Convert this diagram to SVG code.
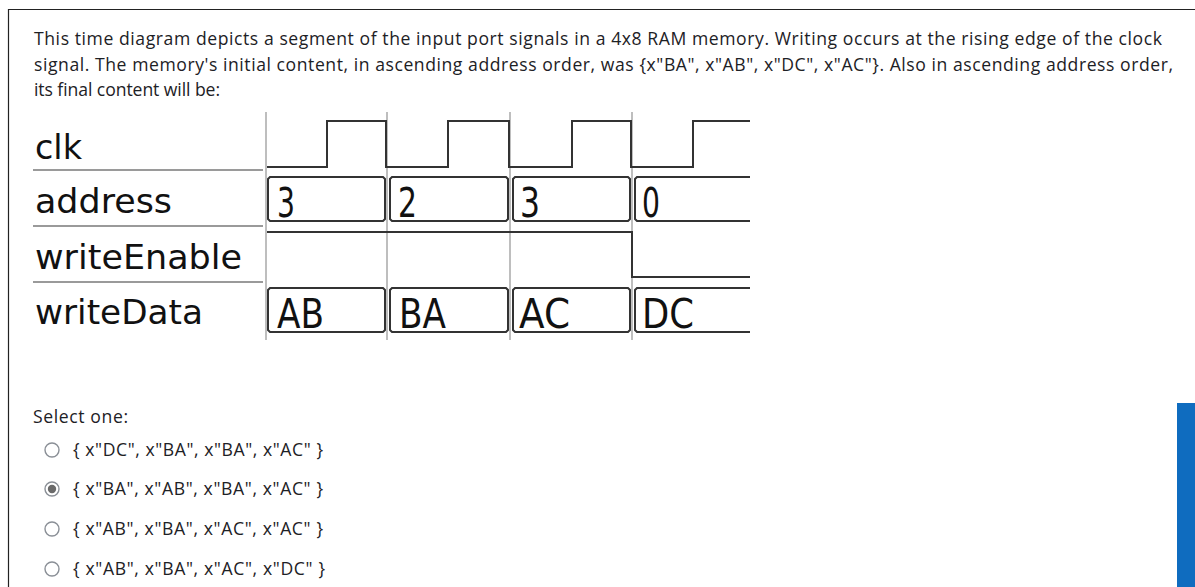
<svg xmlns="http://www.w3.org/2000/svg" width="1195" height="587" viewBox="0 0 1195 587">
<style>
.q{font-family:"Open Sans","Noto Sans",sans-serif;font-size:17.6px;fill:#1d2125}
.lbl{font-family:"DejaVu Sans",sans-serif;font-size:34px;fill:#111}
.bus{font-family:"DejaVu Sans",sans-serif;font-size:41px;fill:#111}
.sig{fill:none;stroke:#333;stroke-width:2;stroke-linejoin:miter}
.grid{stroke:#a8a8a8;stroke-width:1.5}
.sep{stroke:#9a9a9a;stroke-width:2}
.radio{fill:#fff;stroke:#8a8f96;stroke-width:1.4}
</style>
<rect width="1195" height="587" fill="#fff"/>
<g id="frame">
<path d="M8.5,587 V9.5 H1195" fill="none" stroke="#222" stroke-width="1.2"/>
<rect x="1177" y="403" width="18" height="184" fill="#0f6cbf"/>
</g>
<g id="question">
<text class="q" x="34" y="45" textLength="1128" lengthAdjust="spacing">This time diagram depicts a segment of the input port signals in a 4x8 RAM memory. Writing occurs at the rising edge of the clock</text>
<text class="q" x="34" y="70.5" textLength="1139" lengthAdjust="spacing">signal. The memory's initial content, in ascending address order, was {x"BA", x"AB", x"DC", x"AC"}. Also in ascending address order,</text>
<text class="q" x="34" y="96" textLength="186" lengthAdjust="spacing">its final content will be:</text>
</g>
<g id="timing-grid">
<line class="grid" x1="266" y1="112" x2="266" y2="340"/>
<line class="grid" x1="387" y1="112" x2="387" y2="340"/>
<line class="grid" x1="510" y1="112" x2="510" y2="340"/>
<line class="grid" x1="632" y1="112" x2="632" y2="340"/>
<line class="sep" x1="33" y1="170" x2="263" y2="170"/>
<line class="sep" x1="33" y1="226" x2="263" y2="226"/>
<line class="sep" x1="33" y1="282" x2="263" y2="282"/>
</g>
<g id="labels">
<text class="lbl" x="35" y="159" textLength="47" lengthAdjust="spacingAndGlyphs">clk</text>
<text class="lbl" x="35" y="213" textLength="137" lengthAdjust="spacingAndGlyphs">address</text>
<text class="lbl" x="35" y="269" textLength="207" lengthAdjust="spacingAndGlyphs">writeEnable</text>
<text class="lbl" x="35" y="324" textLength="168" lengthAdjust="spacingAndGlyphs">writeData</text>
</g>
<g id="clk">
<path class="sig" d="M267,167 H327 V121 H386 V167 H448 V121 H509 V167 H572 V121 H631 V167 H693 V121 H750"/>
</g>
<g id="address">
<path class="sig" d="M270,177 H383 L385,179 V219 L383,221 H270 L268,219 V179 Z"/>
<path class="sig" d="M392,177 H506 L508,179 V219 L506,221 H392 L390,219 V179 Z"/>
<path class="sig" d="M515,177 H628 L630,179 V219 L628,221 H515 L513,219 V179 Z"/>
<path class="sig" d="M750,177 H637 L635,179 V219 L637,221 H750"/>
<text class="bus" x="277" y="217" textLength="18" lengthAdjust="spacingAndGlyphs">3</text>
<text class="bus" x="398" y="217" textLength="19" lengthAdjust="spacingAndGlyphs">2</text>
<text class="bus" x="520" y="217" textLength="20" lengthAdjust="spacingAndGlyphs">3</text>
<text class="bus" x="642" y="217" textLength="18" lengthAdjust="spacingAndGlyphs">0</text>
</g>
<g id="writeEnable">
<path class="sig" d="M267,232 H632 V277 H750"/>
</g>
<g id="writeData">
<path class="sig" d="M270,288 H383 L385,290 V330 L383,332 H270 L268,330 V290 Z"/>
<path class="sig" d="M392,288 H506 L508,290 V330 L506,332 H392 L390,330 V290 Z"/>
<path class="sig" d="M515,288 H628 L630,290 V330 L628,332 H515 L513,330 V290 Z"/>
<path class="sig" d="M750,288 H637 L635,290 V330 L637,332 H750"/>
<text class="bus" x="277" y="328" textLength="47" lengthAdjust="spacingAndGlyphs">AB</text>
<text class="bus" x="399" y="328" textLength="47" lengthAdjust="spacingAndGlyphs">BA</text>
<text class="bus" x="519" y="328" textLength="51" lengthAdjust="spacingAndGlyphs">AC</text>
<text class="bus" x="642" y="328" textLength="52" lengthAdjust="spacingAndGlyphs">DC</text>
</g>
<g id="answers">
<text class="q" x="33" y="423" textLength="95" lengthAdjust="spacing">Select one:</text>
<g id="opt1">
<circle class="radio" cx="52" cy="450" r="7"/>
<text class="q" x="73" y="456" textLength="250" lengthAdjust="spacing">{ x"DC", x"BA", x"BA", x"AC" }</text>
</g>
<g id="opt2">
<circle class="radio" cx="52" cy="489" r="7"/>
<circle cx="52" cy="489" r="4.2" fill="#6a6a6a"/>
<text class="q" x="73" y="495" textLength="250" lengthAdjust="spacing">{ x"BA", x"AB", x"BA", x"AC" }</text>
</g>
<g id="opt3">
<circle class="radio" cx="52" cy="529" r="7"/>
<text class="q" x="73" y="535" textLength="250" lengthAdjust="spacing">{ x"AB", x"BA", x"AC", x"AC" }</text>
</g>
<g id="opt4">
<circle class="radio" cx="52" cy="569" r="7"/>
<text class="q" x="73" y="575" textLength="252" lengthAdjust="spacing">{ x"AB", x"BA", x"AC", x"DC" }</text>
</g>
</g>
<g id="connectors"/>
</svg>
